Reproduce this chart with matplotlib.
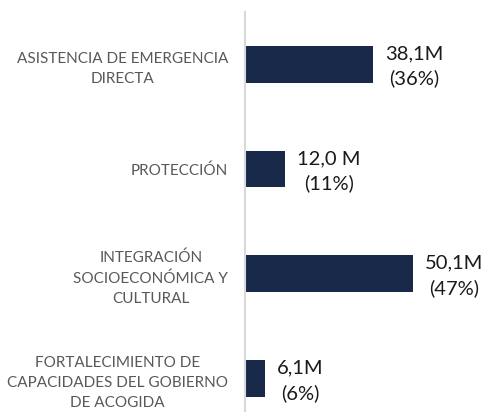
import matplotlib.pyplot as plt

# datos
categorias = ['ASISTENCIA DE EMERGENCIA\nDIRECTA',
              'PROTECCIÓN',
              'INTEGRACIÓN\nSOCIOECONÓMICA Y\nCULTURAL',
              'FORTALECIMIENTO DE\nCAPACIDADES DEL GOBIERNO\nDE ACOGIDA']
montos = [38.1, 12.0, 50.1, 6.1]
etiquetas = ['38,1M', '12,0 M', '50,1M', '6,1M']
porcentajes = [36, 11, 47, 6]

plt.rcParams['font.family'] = ['Lato', 'DejaVu Sans']

fig = plt.figure(figsize=(4.84, 4.12), dpi=100)
ax = fig.add_axes([0.506, 0.0, 0.494, 0.971])

pos = list(range(len(categorias)))
ax.barh(pos, montos, height=0.35, color='#18294a')

for i, (v, t, p) in enumerate(zip(montos, etiquetas, porcentajes)):
    ax.annotate(f'{t}\n({p}%)', xy=(v, i), xytext=(8.5, -1.5), textcoords='offset points',
                ha='left', va='center', multialignment='center', fontsize=14.5,
                color='#1a1a1a', linespacing=1.5)

ax.set_yticks(pos)
ax.set_yticklabels(categorias, fontsize=11, color='#595959', linespacing=1.55)
for lbl in ax.get_yticklabels():
    lbl.set_multialignment('center')
ax.tick_params(axis='y', length=0, pad=12)
ax.set_xticks([])
ax.set_xlim(0, 71.1)
ax.set_ylim(3.32, -0.5)

for s in ['top', 'right', 'bottom']:
    ax.spines[s].set_visible(False)
ax.spines['left'].set_color('#d9d9d9')
ax.spines['left'].set_linewidth(1.5)

fig.savefig('out.png', dpi=100)
